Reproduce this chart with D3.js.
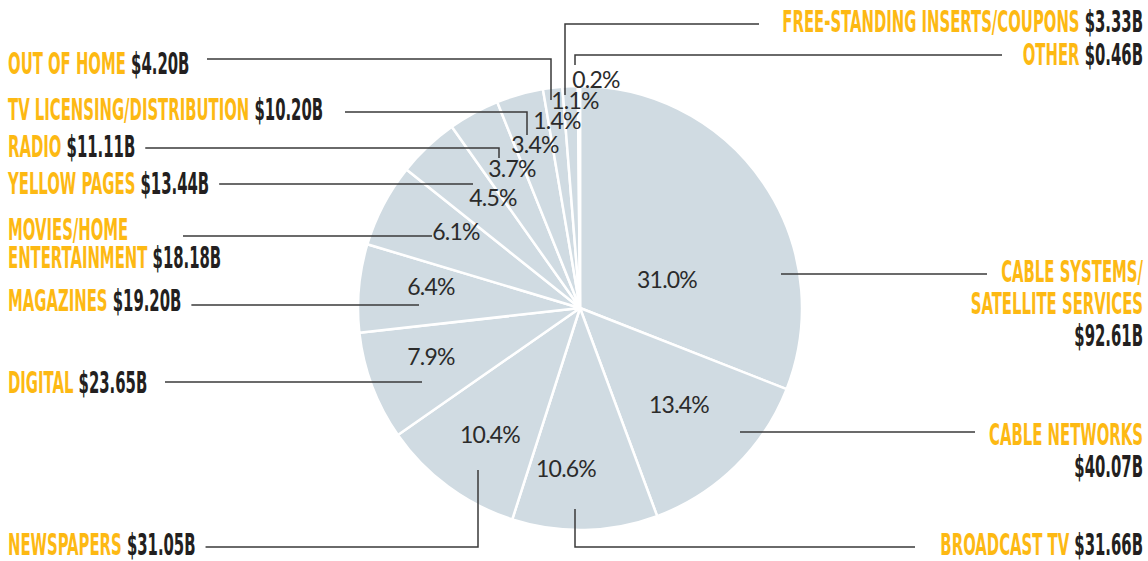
<!DOCTYPE html>
<html>
<head>
<meta charset="utf-8">
<script src="https://cdn.jsdelivr.net/npm/d3@7"></script>
<style>
  body { margin: 0; background: #fff; }
  .cat { fill: #fdb913; }
  .val { fill: #231f20; }
  .lbl { font-family: "Liberation Sans Narrow", "DejaVu Sans Condensed", sans-serif; font-weight: bold; font-size: 30px; }
  .pct { font-family: Lato, "Open Sans", sans-serif; font-weight: 400; font-size: 23px; fill: #2b2b2b; letter-spacing: -0.8px; }
  .leader { fill: none; stroke: #3a3a3a; stroke-width: 1.5; }
</style>
</head>
<body>
<svg id="pie" width="1148" height="561"></svg>
<script>
(function() {
    // ad spending by category, clockwise from 12 o'clock
    var categories = ["CABLE SYSTEMS/SATELLITE SERVICES", "CABLE NETWORKS", "BROADCAST TV", "NEWSPAPERS",
        "DIGITAL", "MAGAZINES", "MOVIES/HOME ENTERTAINMENT", "YELLOW PAGES", "RADIO",
        "TV LICENSING/DISTRIBUTION", "OUT OF HOME", "FREE-STANDING INSERTS/COUPONS", "OTHER"]
    var values = [92.61, 40.07, 31.66, 31.05, 23.65, 19.20, 18.18, 13.44, 11.11, 10.20, 4.20, 3.33, 0.46]
    var percentLabels = ["31.0%", "13.4%", "10.6%", "10.4%", "7.9%", "6.4%", "6.1%", "4.5%", "3.7%", "3.4%", "1.4%", "1.1%", "0.2%"]
    var valueLabels = ["$92.61B", "$40.07B", "$31.66B", "$31.05B", "$23.65B", "$19.20B", "$18.18B", "$13.44B", "$11.11B", "$10.20B", "$4.20B", "$3.33B", "$0.46B"]

    var cx = 580, cy = 308, radius = 222

    // label layout: percent text spot (relative to pie centre), leader path, category lines
    var layout = [
        { pct: [86, -20], leader: [[781, 274], [987, 274]], side: "right", lines: [[["CABLE SYSTEMS/"], 282], [["SATELLITE SERVICES"], 314], [[null, true], 346]] },
        { pct: [98, 105], leader: [[740, 432], [975, 432]], side: "right", lines: [[["CABLE NETWORKS"], 445], [[null, true], 477]] },
        { pct: [-15, 169], leader: [[575, 509], [575, 547], [915, 547]], side: "right", lines: [[["BROADCAST TV", true], 555]] },
        { pct: [-91, 135], leader: [[478, 470], [478, 547], [205, 547]], side: "left", lines: [[["NEWSPAPERS", true], 555]] },
        { pct: [-150, 57], leader: [[422, 382], [165, 382]], side: "left", lines: [[["DIGITAL", true], 393]] },
        { pct: [-150, -13], leader: [[419, 305], [190, 305]], side: "left", lines: [[["MAGAZINES", true], 311]] },
        { pct: [-125, -68], leader: [[432, 236], [183, 236]], side: "left", lines: [[["MOVIES/HOME"], 240], [["ENTERTAINMENT", true], 268]] },
        { pct: [-88, -102], leader: [[473, 184], [218, 184]], side: "left", lines: [[["YELLOW PAGES", true], 194]] },
        { pct: [-69, -131], leader: [[499, 158], [499, 148], [138, 148]], side: "left", lines: [[["RADIO", true], 157]] },
        { pct: [-46, -155], leader: [[527, 135], [527, 112], [345, 112]], side: "left", lines: [[["TV LICENSING/DISTRIBUTION", true], 120]] },
        { pct: [-24, -179], leader: [[551, 100], [551, 59], [207, 59]], side: "left", lines: [[["OUT OF HOME", true], 74]] },
        { pct: [-6, -199], leader: [[565, 95], [565, 24], [759, 24]], side: "right", lines: [[["FREE-STANDING INSERTS/COUPONS", true], 32]] },
        { pct: [15, -220], leader: [[575, 65], [575, 55], [1002, 55]], side: "right", lines: [[["OTHER", true], 65]] }
    ]

    var svg = d3.select("#pie")

    var pie = d3.pie().sort(null).value(d => d)
    var arc = d3.arc().innerRadius(0).outerRadius(radius)

    var chart = svg.append("g").attr("transform", `translate(${cx},${cy})`)

    chart.selectAll("path")
        .data(pie(values))
        .join("path")
            .attr("d", arc)
            .attr("fill", "#d0dbe2")
            .attr("stroke", "#fff")
            .attr("stroke-width", 2.5)
            .attr("stroke-linejoin", "round")

    //percent labels
    chart.selectAll("text.pct")
        .data(percentLabels)
        .join("text")
            .attr("class", "pct")
            .attr("text-anchor", "middle")
            .attr("x", (d, i) => layout[i].pct[0] + 1)
            .attr("y", (d, i) => layout[i].pct[1])
            .text(d => d)

    //squeeze the bold face so "OUT OF HOME" spans ~118px like the original condensed type
    var probe = svg.append("text").attr("class", "lbl").text("OUT OF HOME")
    var sx = 118 / probe.node().getComputedTextLength()
    probe.remove()

    //category + value labels
    var labels = svg.append("g")
    layout.forEach((l, i) => {
        var x = l.side == "left" ? 8 : 1143
        l.lines.forEach(([parts, y]) => {
            var t = labels.append("text")
                .attr("class", "lbl")
                .attr("text-anchor", l.side == "left" ? "start" : "end")
                .attr("transform", `translate(${x},${y}) scale(${sx},1)`)
            if (parts[0]) t.append("tspan").attr("class", "cat").text(parts[0])
            if (parts[1]) t.append("tspan").attr("class", "val").text((parts[0] ? " " : "") + valueLabels[i])
            // keep a small gap between a one-line label and its leader
            if (l.lines.length == 1) {
                var w = t.node().getComputedTextLength() * sx
                var last = l.leader[l.leader.length - 1]
                if (l.side == "left") last[0] = Math.max(last[0], x + w + 10)
                else last[0] = Math.min(last[0], x - w - 10)
            }
        })
    })

    //leader lines
    var line = d3.line()
    svg.append("g").selectAll("path")
        .data(layout)
        .join("path")
            .attr("class", "leader")
            .attr("d", d => line(d.leader))
})();
</script>
</body>
</html>
